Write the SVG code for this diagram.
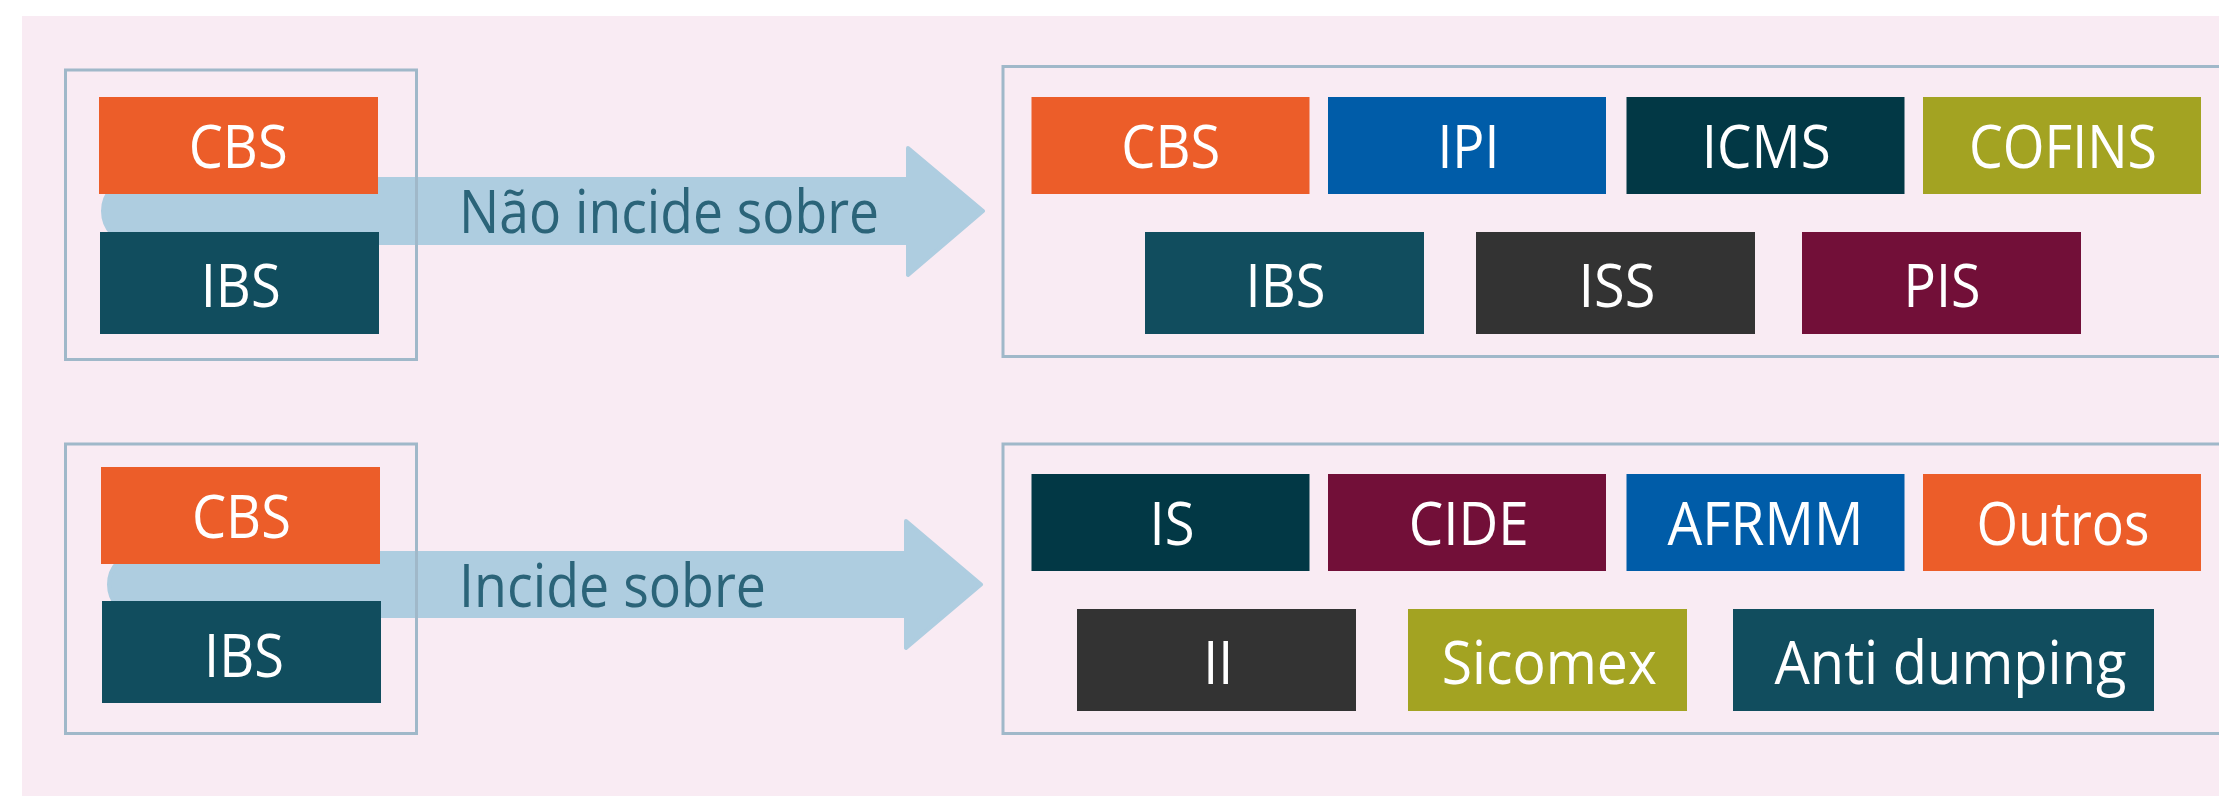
<svg xmlns="http://www.w3.org/2000/svg" width="2219" height="796" viewBox="0 0 2219 796">
  <style>
    .bg { fill: #f9ebf3; }
    .frame { fill: none; stroke: #a0b8c9; stroke-width: 3; }
    .arrow { fill: #aecde0; stroke: #aecde0; stroke-width: 4; stroke-linejoin: round; }
    .lbl { font-family: "Open Sans", "Noto Sans", sans-serif; font-size: 60px; fill: #ffffff; text-anchor: middle; }
    .arrow-lbl { font-family: "Open Sans", "Noto Sans", sans-serif; font-size: 60px; fill: #2b6479; }
    .orange { fill: #ec5d29; }
    .blue { fill: #005ca8; }
    .ink { fill: #023845; }
    .olive { fill: #a3a322; }
    .teal { fill: #114d5e; }
    .gray { fill: #333333; }
    .wine { fill: #720f38; }
  </style>

  <rect class="bg" x="22" y="16" width="2197" height="780"/>

  <!-- Arrows between the tax pairs and the lists -->
  <g id="connectors">
    <g id="arrow-nao-incide">
      <path class="arrow" d="M133,179 L908,179 L908,148 L983,211 L908,275 L908,243 L133,243 A30,32 0 0 1 133,179 Z"/>
      <text class="arrow-lbl" x="459" y="233" textLength="420" lengthAdjust="spacingAndGlyphs">Não incide sobre</text>
    </g>
    <g id="arrow-incide">
      <path class="arrow" d="M139,553 L906,553 L906,521 L981,584.5 L906,648 L906,616 L139,616 A30,31.5 0 0 1 139,553 Z"/>
      <text class="arrow-lbl" x="459" y="606.7" textLength="307" lengthAdjust="spacingAndGlyphs">Incide sobre</text>
    </g>
  </g>

  <!-- Upper row: CBS/IBS do not apply over these -->
  <g id="source-top">
    <rect class="frame" x="65.5" y="70" width="351" height="289.5"/>
    <g id="top-cbs">
      <rect class="orange" x="99" y="97" width="279" height="97"/>
      <text class="lbl" x="238.2" y="168.3" textLength="99" lengthAdjust="spacingAndGlyphs">CBS</text>
    </g>
    <g id="top-ibs">
      <rect class="teal" x="100" y="232" width="279" height="102"/>
      <text class="lbl" x="240.7" y="306.7" textLength="80" lengthAdjust="spacingAndGlyphs">IBS</text>
    </g>
  </g>

  <g id="target-top">
    <rect class="frame" x="1003" y="66.5" width="1240" height="290"/>
    <g id="t-cbs">
      <rect class="orange" x="1031.5" y="97" width="278" height="97"/>
      <text class="lbl" x="1170.8" y="168.3" textLength="99" lengthAdjust="spacingAndGlyphs">CBS</text>
    </g>
    <g id="t-ipi">
      <rect class="blue" x="1328" y="97" width="278" height="97"/>
      <text class="lbl" x="1468.4" y="168.3" textLength="62" lengthAdjust="spacingAndGlyphs">IPI</text>
    </g>
    <g id="t-icms">
      <rect class="ink" x="1626.5" y="97" width="278" height="97"/>
      <text class="lbl" x="1766.2" y="168.3" textLength="129" lengthAdjust="spacingAndGlyphs">ICMS</text>
    </g>
    <g id="t-cofins">
      <rect class="olive" x="1923" y="97" width="278" height="97"/>
      <text class="lbl" x="2063" y="168.3" textLength="188" lengthAdjust="spacingAndGlyphs">COFINS</text>
    </g>
    <g id="t-ibs">
      <rect class="teal" x="1145" y="232" width="279" height="102"/>
      <text class="lbl" x="1285.5" y="306.7" textLength="80" lengthAdjust="spacingAndGlyphs">IBS</text>
    </g>
    <g id="t-iss">
      <rect class="gray" x="1476" y="232" width="279" height="102"/>
      <text class="lbl" x="1616.9" y="306.7" textLength="77" lengthAdjust="spacingAndGlyphs">ISS</text>
    </g>
    <g id="t-pis">
      <rect class="wine" x="1802" y="232" width="279" height="102"/>
      <text class="lbl" x="1942" y="306.7" textLength="77" lengthAdjust="spacingAndGlyphs">PIS</text>
    </g>
  </g>

  <!-- Lower row: CBS/IBS apply over these -->
  <g id="source-bottom">
    <rect class="frame" x="65.5" y="444" width="351" height="289.5"/>
    <g id="bottom-cbs">
      <rect class="orange" x="101" y="467" width="279" height="97"/>
      <text class="lbl" x="241.4" y="537.7" textLength="99" lengthAdjust="spacingAndGlyphs">CBS</text>
    </g>
    <g id="bottom-ibs">
      <rect class="teal" x="102" y="601" width="279" height="102"/>
      <text class="lbl" x="244" y="676.7" textLength="80" lengthAdjust="spacingAndGlyphs">IBS</text>
    </g>
  </g>

  <g id="target-bottom">
    <rect class="frame" x="1003" y="444" width="1240" height="289.5"/>
    <g id="b-is">
      <rect class="ink" x="1031.5" y="474" width="278" height="97"/>
      <text class="lbl" x="1172" y="545" textLength="45" lengthAdjust="spacingAndGlyphs">IS</text>
    </g>
    <g id="b-cide">
      <rect class="wine" x="1328" y="474" width="278" height="97"/>
      <text class="lbl" x="1468.7" y="545" textLength="120" lengthAdjust="spacingAndGlyphs">CIDE</text>
    </g>
    <g id="b-afrmm">
      <rect class="blue" x="1626.5" y="474" width="278" height="97"/>
      <text class="lbl" x="1765.4" y="545" textLength="196" lengthAdjust="spacingAndGlyphs">AFRMM</text>
    </g>
    <g id="b-outros">
      <rect class="orange" x="1923" y="474" width="278" height="97"/>
      <text class="lbl" x="2063" y="545" textLength="173" lengthAdjust="spacingAndGlyphs">Outros</text>
    </g>
    <g id="b-ii">
      <rect class="gray" x="1077" y="609" width="279" height="102"/>
      <text class="lbl" x="1218.2" y="684" textLength="30" lengthAdjust="spacingAndGlyphs">II</text>
    </g>
    <g id="b-sicomex">
      <rect class="olive" x="1408" y="609" width="279" height="102"/>
      <text class="lbl" x="1549.3" y="684" textLength="215" lengthAdjust="spacingAndGlyphs">Sicomex</text>
    </g>
    <g id="b-antidumping">
      <rect class="teal" x="1733" y="609" width="421" height="102"/>
      <text class="lbl" x="1950.4" y="684" textLength="352" lengthAdjust="spacingAndGlyphs">Anti dumping</text>
    </g>
  </g>
</svg>
